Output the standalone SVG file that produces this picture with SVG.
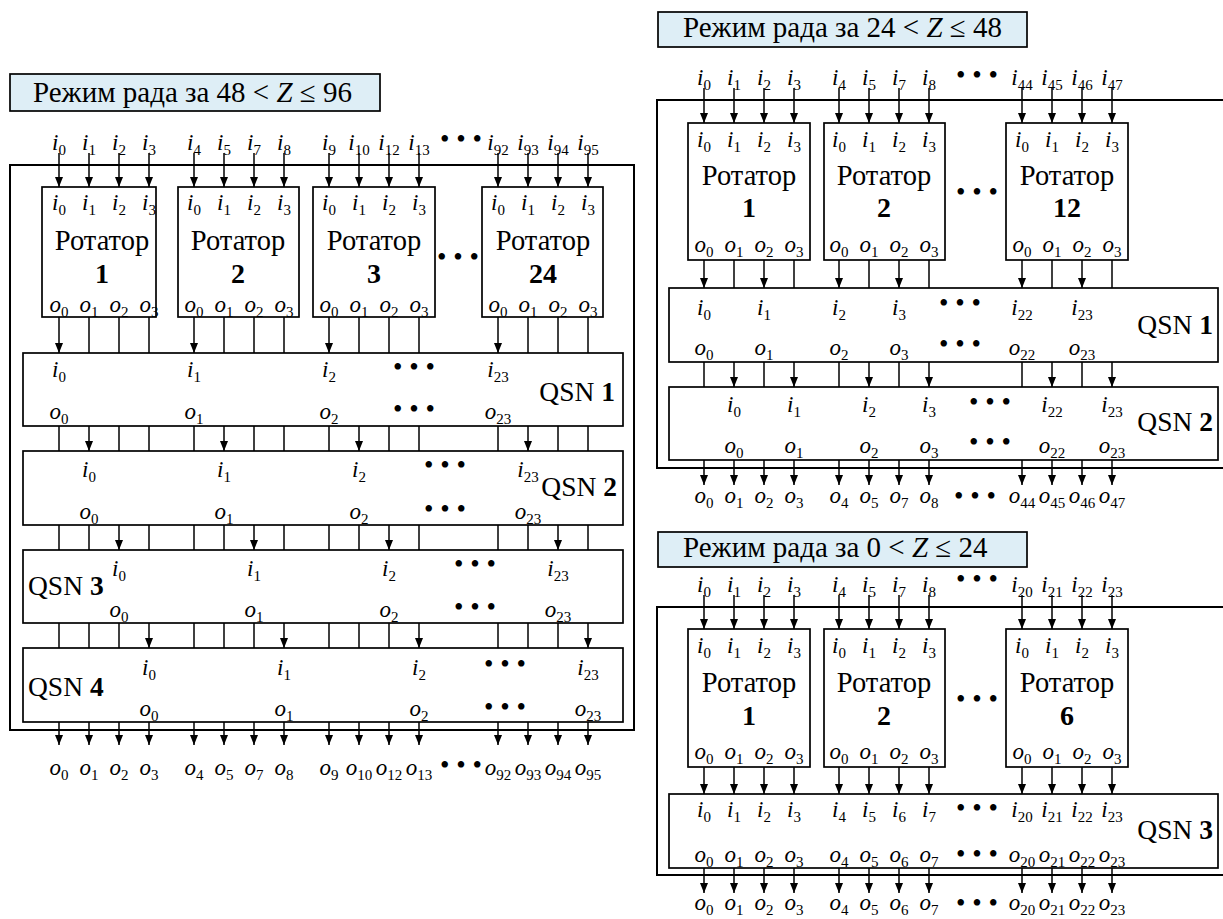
<svg xmlns="http://www.w3.org/2000/svg" width="1223" height="919" viewBox="0 0 1223 919" font-family="'Liberation Serif', 'DejaVu Serif', serif">
<style>
.bx{fill:#fff;stroke:#000;stroke-width:1.7}
.fr{fill:none;stroke:#000;stroke-width:2}
.tb{fill:#deeef6;stroke:#000;stroke-width:1.7}
#connectors line{stroke:#000;stroke-width:1.5}
.a line{marker-end:url(#ah)}
text{font-family:'Liberation Serif','DejaVu Serif',serif;fill:#000}
.lb text,text.lb{font-size:23px;font-style:italic;text-anchor:middle}
.lb tspan,text.lb tspan{font-size:15px;font-style:normal}
.rt{font-size:28.5px;text-anchor:middle}
.nm{font-size:28px;font-weight:bold;text-anchor:middle}
.q{font-size:27.5px}
.dt{font-size:27px;text-anchor:middle}
.tt{font-size:29px}
</style>
<defs>
<marker id="ah" viewBox="0 0 10 8" refX="10" refY="4" markerWidth="10" markerHeight="8.5" markerUnits="userSpaceOnUse" orient="auto"><path d="M0,0 L10,4 L0,8 z" fill="#000"/></marker>
</defs>

<g id="frame-48-96">
<rect class="fr" x="10" y="165" width="624" height="565"/>
<rect class="tb" x="10" y="74" width="370" height="37"/>
<text class="tt" x="33" y="102">Режим рада за 48 &lt; <tspan font-style="italic">Z</tspan> ≤ 96</text>
</g>

<g id="frame-24-48">
<rect class="fr" x="657" y="100" width="570" height="368"/>
<rect class="tb" x="658" y="12" width="369" height="35"/>
<text class="tt" x="683" y="37">Режим рада за 24 &lt; <tspan font-style="italic">Z</tspan> ≤ 48</text>
</g>

<g id="frame-0-24">
<rect class="fr" x="657" y="607" width="570" height="268"/>
<rect class="tb" x="658" y="532" width="369" height="35"/>
<text class="tt" x="683" y="557">Режим рада за 0 &lt; <tspan font-style="italic">Z</tspan> ≤ 24</text>
</g>

<g id="connectors">
<g class="a">
<line x1="59" y1="153" x2="59" y2="187"/><line x1="89" y1="153" x2="89" y2="187"/><line x1="119" y1="153" x2="119" y2="187"/><line x1="149" y1="153" x2="149" y2="187"/>
<line x1="194" y1="153" x2="194" y2="187"/><line x1="224" y1="153" x2="224" y2="187"/><line x1="254" y1="153" x2="254" y2="187"/><line x1="284" y1="153" x2="284" y2="187"/>
<line x1="329" y1="153" x2="329" y2="187"/><line x1="359" y1="153" x2="359" y2="187"/><line x1="389" y1="153" x2="389" y2="187"/><line x1="419" y1="153" x2="419" y2="187"/>
<line x1="498" y1="153" x2="498" y2="187"/><line x1="528" y1="153" x2="528" y2="187"/><line x1="558" y1="153" x2="558" y2="187"/><line x1="588" y1="153" x2="588" y2="187"/>
<line x1="59" y1="317" x2="59" y2="353"/><line x1="194" y1="317" x2="194" y2="353"/><line x1="329" y1="317" x2="329" y2="353"/><line x1="498" y1="317" x2="498" y2="353"/>
<line x1="89" y1="426" x2="89" y2="451"/><line x1="224" y1="426" x2="224" y2="451"/><line x1="359" y1="426" x2="359" y2="451"/><line x1="528" y1="426" x2="528" y2="451"/>
<line x1="119" y1="525" x2="119" y2="550"/><line x1="254" y1="525" x2="254" y2="550"/><line x1="389" y1="525" x2="389" y2="550"/><line x1="558" y1="525" x2="558" y2="550"/>
<line x1="149" y1="623" x2="149" y2="648"/><line x1="284" y1="623" x2="284" y2="648"/><line x1="419" y1="623" x2="419" y2="648"/><line x1="588" y1="623" x2="588" y2="648"/>
<line x1="59" y1="722" x2="59" y2="745"/><line x1="89" y1="722" x2="89" y2="745"/><line x1="119" y1="722" x2="119" y2="745"/><line x1="149" y1="722" x2="149" y2="745"/>
<line x1="194" y1="722" x2="194" y2="745"/><line x1="224" y1="722" x2="224" y2="745"/><line x1="254" y1="722" x2="254" y2="745"/><line x1="284" y1="722" x2="284" y2="745"/>
<line x1="329" y1="722" x2="329" y2="745"/><line x1="359" y1="722" x2="359" y2="745"/><line x1="389" y1="722" x2="389" y2="745"/><line x1="419" y1="722" x2="419" y2="745"/>
<line x1="498" y1="722" x2="498" y2="745"/><line x1="528" y1="722" x2="528" y2="745"/><line x1="558" y1="722" x2="558" y2="745"/><line x1="588" y1="722" x2="588" y2="745"/>
</g>
<g>
<line x1="89" y1="317" x2="89" y2="353"/><line x1="119" y1="317" x2="119" y2="353"/><line x1="149" y1="317" x2="149" y2="353"/>
<line x1="224" y1="317" x2="224" y2="353"/><line x1="254" y1="317" x2="254" y2="353"/><line x1="284" y1="317" x2="284" y2="353"/>
<line x1="359" y1="317" x2="359" y2="353"/><line x1="389" y1="317" x2="389" y2="353"/><line x1="419" y1="317" x2="419" y2="353"/>
<line x1="528" y1="317" x2="528" y2="353"/><line x1="558" y1="317" x2="558" y2="353"/><line x1="588" y1="317" x2="588" y2="353"/>
<line x1="59" y1="426" x2="59" y2="451"/><line x1="119" y1="426" x2="119" y2="451"/><line x1="149" y1="426" x2="149" y2="451"/>
<line x1="194" y1="426" x2="194" y2="451"/><line x1="254" y1="426" x2="254" y2="451"/><line x1="284" y1="426" x2="284" y2="451"/>
<line x1="329" y1="426" x2="329" y2="451"/><line x1="389" y1="426" x2="389" y2="451"/><line x1="419" y1="426" x2="419" y2="451"/>
<line x1="498" y1="426" x2="498" y2="451"/><line x1="558" y1="426" x2="558" y2="451"/><line x1="588" y1="426" x2="588" y2="451"/>
<line x1="59" y1="525" x2="59" y2="550"/><line x1="89" y1="525" x2="89" y2="550"/><line x1="149" y1="525" x2="149" y2="550"/>
<line x1="194" y1="525" x2="194" y2="550"/><line x1="224" y1="525" x2="224" y2="550"/><line x1="284" y1="525" x2="284" y2="550"/>
<line x1="329" y1="525" x2="329" y2="550"/><line x1="359" y1="525" x2="359" y2="550"/><line x1="419" y1="525" x2="419" y2="550"/>
<line x1="498" y1="525" x2="498" y2="550"/><line x1="528" y1="525" x2="528" y2="550"/><line x1="588" y1="525" x2="588" y2="550"/>
<line x1="59" y1="623" x2="59" y2="648"/><line x1="89" y1="623" x2="89" y2="648"/><line x1="119" y1="623" x2="119" y2="648"/>
<line x1="194" y1="623" x2="194" y2="648"/><line x1="224" y1="623" x2="224" y2="648"/><line x1="254" y1="623" x2="254" y2="648"/>
<line x1="329" y1="623" x2="329" y2="648"/><line x1="359" y1="623" x2="359" y2="648"/><line x1="389" y1="623" x2="389" y2="648"/>
<line x1="498" y1="623" x2="498" y2="648"/><line x1="528" y1="623" x2="528" y2="648"/><line x1="558" y1="623" x2="558" y2="648"/>
</g>

<g class="a">
<line x1="704" y1="88" x2="704" y2="123"/><line x1="734" y1="88" x2="734" y2="123"/><line x1="764" y1="88" x2="764" y2="123"/><line x1="794" y1="88" x2="794" y2="123"/>
<line x1="839" y1="88" x2="839" y2="123"/><line x1="869" y1="88" x2="869" y2="123"/><line x1="899" y1="88" x2="899" y2="123"/><line x1="929" y1="88" x2="929" y2="123"/>
<line x1="1022" y1="88" x2="1022" y2="123"/><line x1="1052" y1="88" x2="1052" y2="123"/><line x1="1082" y1="88" x2="1082" y2="123"/><line x1="1112" y1="88" x2="1112" y2="123"/>
<line x1="704" y1="260" x2="704" y2="288"/><line x1="764" y1="260" x2="764" y2="288"/><line x1="839" y1="260" x2="839" y2="288"/><line x1="899" y1="260" x2="899" y2="288"/><line x1="1022" y1="260" x2="1022" y2="288"/><line x1="1082" y1="260" x2="1082" y2="288"/>
<line x1="734" y1="362" x2="734" y2="387"/><line x1="794" y1="362" x2="794" y2="387"/><line x1="869" y1="362" x2="869" y2="387"/><line x1="929" y1="362" x2="929" y2="387"/><line x1="1052" y1="362" x2="1052" y2="387"/><line x1="1112" y1="362" x2="1112" y2="387"/>
<line x1="704" y1="460" x2="704" y2="485"/><line x1="734" y1="460" x2="734" y2="485"/><line x1="764" y1="460" x2="764" y2="485"/><line x1="794" y1="460" x2="794" y2="485"/>
<line x1="839" y1="460" x2="839" y2="485"/><line x1="869" y1="460" x2="869" y2="485"/><line x1="899" y1="460" x2="899" y2="485"/><line x1="929" y1="460" x2="929" y2="485"/>
<line x1="1022" y1="460" x2="1022" y2="485"/><line x1="1052" y1="460" x2="1052" y2="485"/><line x1="1082" y1="460" x2="1082" y2="485"/><line x1="1112" y1="460" x2="1112" y2="485"/>
</g>
<g>
<line x1="734" y1="260" x2="734" y2="288"/><line x1="794" y1="260" x2="794" y2="288"/><line x1="869" y1="260" x2="869" y2="288"/><line x1="929" y1="260" x2="929" y2="288"/><line x1="1052" y1="260" x2="1052" y2="288"/><line x1="1112" y1="260" x2="1112" y2="288"/>
<line x1="704" y1="362" x2="704" y2="387"/><line x1="764" y1="362" x2="764" y2="387"/><line x1="839" y1="362" x2="839" y2="387"/><line x1="899" y1="362" x2="899" y2="387"/><line x1="1022" y1="362" x2="1022" y2="387"/><line x1="1082" y1="362" x2="1082" y2="387"/>
</g>

<g class="a">
<line x1="704" y1="595" x2="704" y2="629"/><line x1="734" y1="595" x2="734" y2="629"/><line x1="764" y1="595" x2="764" y2="629"/><line x1="794" y1="595" x2="794" y2="629"/>
<line x1="839" y1="595" x2="839" y2="629"/><line x1="869" y1="595" x2="869" y2="629"/><line x1="899" y1="595" x2="899" y2="629"/><line x1="929" y1="595" x2="929" y2="629"/>
<line x1="1022" y1="595" x2="1022" y2="629"/><line x1="1052" y1="595" x2="1052" y2="629"/><line x1="1082" y1="595" x2="1082" y2="629"/><line x1="1112" y1="595" x2="1112" y2="629"/>
<line x1="704" y1="767" x2="704" y2="794"/><line x1="734" y1="767" x2="734" y2="794"/><line x1="764" y1="767" x2="764" y2="794"/><line x1="794" y1="767" x2="794" y2="794"/>
<line x1="839" y1="767" x2="839" y2="794"/><line x1="869" y1="767" x2="869" y2="794"/><line x1="899" y1="767" x2="899" y2="794"/><line x1="929" y1="767" x2="929" y2="794"/>
<line x1="1022" y1="767" x2="1022" y2="794"/><line x1="1052" y1="767" x2="1052" y2="794"/><line x1="1082" y1="767" x2="1082" y2="794"/><line x1="1112" y1="767" x2="1112" y2="794"/>
<line x1="704" y1="868" x2="704" y2="893"/><line x1="734" y1="868" x2="734" y2="893"/><line x1="764" y1="868" x2="764" y2="893"/><line x1="794" y1="868" x2="794" y2="893"/>
<line x1="839" y1="868" x2="839" y2="893"/><line x1="869" y1="868" x2="869" y2="893"/><line x1="899" y1="868" x2="899" y2="893"/><line x1="929" y1="868" x2="929" y2="893"/>
<line x1="1022" y1="868" x2="1022" y2="893"/><line x1="1052" y1="868" x2="1052" y2="893"/><line x1="1082" y1="868" x2="1082" y2="893"/><line x1="1112" y1="868" x2="1112" y2="893"/>
</g>
</g>

<g id="L-inputs" class="lb">
<text x="59" y="150">i<tspan dy="5">0</tspan></text><text x="89" y="150">i<tspan dy="5">1</tspan></text><text x="119" y="150">i<tspan dy="5">2</tspan></text><text x="149" y="150">i<tspan dy="5">3</tspan></text>
<text x="194" y="150">i<tspan dy="5">4</tspan></text><text x="224" y="150">i<tspan dy="5">5</tspan></text><text x="254" y="150">i<tspan dy="5">7</tspan></text><text x="284" y="150">i<tspan dy="5">8</tspan></text>
<text x="329" y="150">i<tspan dy="5">9</tspan></text><text x="359" y="150">i<tspan dy="5">10</tspan></text><text x="389" y="150">i<tspan dy="5">12</tspan></text><text x="419" y="150">i<tspan dy="5">13</tspan></text>
<text x="498" y="150">i<tspan dy="5">92</tspan></text><text x="528" y="150">i<tspan dy="5">93</tspan></text><text x="558" y="150">i<tspan dy="5">94</tspan></text><text x="588" y="150">i<tspan dy="5">95</tspan></text>
</g>
<text class="dt" x="461" y="148">• • •</text>

<g id="L-rot1">
<rect class="bx" x="42" y="187" width="114" height="130"/>
<g class="lb"><text x="59" y="210">i<tspan dy="5">0</tspan></text><text x="89" y="210">i<tspan dy="5">1</tspan></text><text x="119" y="210">i<tspan dy="5">2</tspan></text><text x="149" y="210">i<tspan dy="5">3</tspan></text>
<text x="59" y="312">o<tspan dy="5">0</tspan></text><text x="89" y="312">o<tspan dy="5">1</tspan></text><text x="119" y="312">o<tspan dy="5">2</tspan></text><text x="149" y="312">o<tspan dy="5">3</tspan></text></g>
<text class="rt" x="102" y="250">Ротатор</text><text class="nm" x="102" y="283">1</text>
</g>
<g id="L-rot2">
<rect class="bx" x="178" y="187" width="121" height="130"/>
<g class="lb"><text x="194" y="210">i<tspan dy="5">0</tspan></text><text x="224" y="210">i<tspan dy="5">1</tspan></text><text x="254" y="210">i<tspan dy="5">2</tspan></text><text x="284" y="210">i<tspan dy="5">3</tspan></text>
<text x="194" y="312">o<tspan dy="5">0</tspan></text><text x="224" y="312">o<tspan dy="5">1</tspan></text><text x="254" y="312">o<tspan dy="5">2</tspan></text><text x="284" y="312">o<tspan dy="5">3</tspan></text></g>
<text class="rt" x="238" y="250">Ротатор</text><text class="nm" x="238" y="283">2</text>
</g>
<g id="L-rot3">
<rect class="bx" x="313" y="187" width="122" height="130"/>
<g class="lb"><text x="329" y="210">i<tspan dy="5">0</tspan></text><text x="359" y="210">i<tspan dy="5">1</tspan></text><text x="389" y="210">i<tspan dy="5">2</tspan></text><text x="419" y="210">i<tspan dy="5">3</tspan></text>
<text x="329" y="312">o<tspan dy="5">0</tspan></text><text x="359" y="312">o<tspan dy="5">1</tspan></text><text x="389" y="312">o<tspan dy="5">2</tspan></text><text x="419" y="312">o<tspan dy="5">3</tspan></text></g>
<text class="rt" x="374" y="250">Ротатор</text><text class="nm" x="374" y="283">3</text>
</g>
<text class="dt" x="458" y="266">• • •</text>
<g id="L-rot24">
<rect class="bx" x="482" y="187" width="121" height="130"/>
<g class="lb"><text x="498" y="210">i<tspan dy="5">0</tspan></text><text x="528" y="210">i<tspan dy="5">1</tspan></text><text x="558" y="210">i<tspan dy="5">2</tspan></text><text x="588" y="210">i<tspan dy="5">3</tspan></text>
<text x="498" y="312">o<tspan dy="5">0</tspan></text><text x="528" y="312">o<tspan dy="5">1</tspan></text><text x="558" y="312">o<tspan dy="5">2</tspan></text><text x="588" y="312">o<tspan dy="5">3</tspan></text></g>
<text class="rt" x="543" y="250">Ротатор</text><text class="nm" x="543" y="283">24</text>
</g>

<g id="L-qsn1">
<rect class="bx" x="23" y="353" width="600" height="73"/>
<g class="lb"><text x="59" y="377">i<tspan dy="5">0</tspan></text><text x="194" y="377">i<tspan dy="5">1</tspan></text><text x="329" y="377">i<tspan dy="5">2</tspan></text><text x="498" y="377">i<tspan dy="5">23</tspan></text>
<text x="59" y="419">o<tspan dy="5">0</tspan></text><text x="194" y="419">o<tspan dy="5">1</tspan></text><text x="329" y="419">o<tspan dy="5">2</tspan></text><text x="498" y="419">o<tspan dy="5">23</tspan></text></g>
<text class="dt" x="414" y="376">• • •</text><text class="dt" x="414" y="418">• • •</text>
<text class="q" x="615" y="401" text-anchor="end">QSN <tspan font-weight="bold">1</tspan></text>
</g>
<g id="L-qsn2">
<rect class="bx" x="23" y="451" width="600" height="74"/>
<g class="lb"><text x="89" y="477">i<tspan dy="5">0</tspan></text><text x="224" y="477">i<tspan dy="5">1</tspan></text><text x="359" y="477">i<tspan dy="5">2</tspan></text><text x="528" y="477">i<tspan dy="5">23</tspan></text>
<text x="89" y="519">o<tspan dy="5">0</tspan></text><text x="224" y="519">o<tspan dy="5">1</tspan></text><text x="359" y="519">o<tspan dy="5">2</tspan></text><text x="528" y="519">o<tspan dy="5">23</tspan></text></g>
<text class="dt" x="445" y="474">• • •</text><text class="dt" x="445" y="518">• • •</text>
<text class="q" x="617" y="496" text-anchor="end">QSN <tspan font-weight="bold">2</tspan></text>
</g>
<g id="L-qsn3">
<rect class="bx" x="23" y="550" width="600" height="73"/>
<g class="lb"><text x="119" y="576">i<tspan dy="5">0</tspan></text><text x="254" y="576">i<tspan dy="5">1</tspan></text><text x="389" y="576">i<tspan dy="5">2</tspan></text><text x="558" y="576">i<tspan dy="5">23</tspan></text>
<text x="119" y="617">o<tspan dy="5">0</tspan></text><text x="254" y="617">o<tspan dy="5">1</tspan></text><text x="389" y="617">o<tspan dy="5">2</tspan></text><text x="558" y="617">o<tspan dy="5">23</tspan></text></g>
<text class="dt" x="475" y="573">• • •</text><text class="dt" x="475" y="616">• • •</text>
<text class="q" x="28" y="595">QSN <tspan font-weight="bold">3</tspan></text>
</g>
<g id="L-qsn4">
<rect class="bx" x="23" y="648" width="600" height="74"/>
<g class="lb"><text x="149" y="675">i<tspan dy="5">0</tspan></text><text x="284" y="675">i<tspan dy="5">1</tspan></text><text x="419" y="675">i<tspan dy="5">2</tspan></text><text x="588" y="675">i<tspan dy="5">23</tspan></text>
<text x="149" y="716">o<tspan dy="5">0</tspan></text><text x="284" y="716">o<tspan dy="5">1</tspan></text><text x="419" y="716">o<tspan dy="5">2</tspan></text><text x="588" y="716">o<tspan dy="5">23</tspan></text></g>
<text class="dt" x="505" y="673">• • •</text><text class="dt" x="505" y="716">• • •</text>
<text class="q" x="28" y="696">QSN <tspan font-weight="bold">4</tspan></text>
</g>

<g id="L-outputs" class="lb">
<text x="59" y="775">o<tspan dy="5">0</tspan></text><text x="89" y="775">o<tspan dy="5">1</tspan></text><text x="119" y="775">o<tspan dy="5">2</tspan></text><text x="149" y="775">o<tspan dy="5">3</tspan></text>
<text x="194" y="775">o<tspan dy="5">4</tspan></text><text x="224" y="775">o<tspan dy="5">5</tspan></text><text x="254" y="775">o<tspan dy="5">7</tspan></text><text x="284" y="775">o<tspan dy="5">8</tspan></text>
<text x="329" y="775">o<tspan dy="5">9</tspan></text><text x="359" y="775">o<tspan dy="5">10</tspan></text><text x="389" y="775">o<tspan dy="5">12</tspan></text><text x="419" y="775">o<tspan dy="5">13</tspan></text>
<text x="498" y="775">o<tspan dy="5">92</tspan></text><text x="528" y="775">o<tspan dy="5">93</tspan></text><text x="558" y="775">o<tspan dy="5">94</tspan></text><text x="588" y="775">o<tspan dy="5">95</tspan></text>
</g>
<text class="dt" x="461" y="774">• • •</text>

<g id="RT-inputs" class="lb">
<text x="704" y="85">i<tspan dy="5">0</tspan></text><text x="734" y="85">i<tspan dy="5">1</tspan></text><text x="764" y="85">i<tspan dy="5">2</tspan></text><text x="794" y="85">i<tspan dy="5">3</tspan></text>
<text x="839" y="85">i<tspan dy="5">4</tspan></text><text x="869" y="85">i<tspan dy="5">5</tspan></text><text x="899" y="85">i<tspan dy="5">7</tspan></text><text x="929" y="85">i<tspan dy="5">8</tspan></text>
<text x="1022" y="85">i<tspan dy="5">44</tspan></text><text x="1052" y="85">i<tspan dy="5">45</tspan></text><text x="1082" y="85">i<tspan dy="5">46</tspan></text><text x="1112" y="85">i<tspan dy="5">47</tspan></text>
</g>
<text class="dt" x="977" y="84">• • •</text>

<g id="RT-rot1">
<rect class="bx" x="688" y="123" width="122" height="137"/>
<g class="lb"><text x="704" y="147">i<tspan dy="5">0</tspan></text><text x="734" y="147">i<tspan dy="5">1</tspan></text><text x="764" y="147">i<tspan dy="5">2</tspan></text><text x="794" y="147">i<tspan dy="5">3</tspan></text>
<text x="704" y="252">o<tspan dy="5">0</tspan></text><text x="734" y="252">o<tspan dy="5">1</tspan></text><text x="764" y="252">o<tspan dy="5">2</tspan></text><text x="794" y="252">o<tspan dy="5">3</tspan></text></g>
<text class="rt" x="749" y="185">Ротатор</text><text class="nm" x="749" y="217">1</text>
</g>
<g id="RT-rot2">
<rect class="bx" x="824" y="123" width="121" height="137"/>
<g class="lb"><text x="839" y="147">i<tspan dy="5">0</tspan></text><text x="869" y="147">i<tspan dy="5">1</tspan></text><text x="899" y="147">i<tspan dy="5">2</tspan></text><text x="929" y="147">i<tspan dy="5">3</tspan></text>
<text x="839" y="252">o<tspan dy="5">0</tspan></text><text x="869" y="252">o<tspan dy="5">1</tspan></text><text x="899" y="252">o<tspan dy="5">2</tspan></text><text x="929" y="252">o<tspan dy="5">3</tspan></text></g>
<text class="rt" x="884" y="185">Ротатор</text><text class="nm" x="884" y="217">2</text>
</g>
<text class="dt" x="977" y="201">• • •</text>
<g id="RT-rot12">
<rect class="bx" x="1006" y="123" width="122" height="137"/>
<g class="lb"><text x="1022" y="147">i<tspan dy="5">0</tspan></text><text x="1052" y="147">i<tspan dy="5">1</tspan></text><text x="1082" y="147">i<tspan dy="5">2</tspan></text><text x="1112" y="147">i<tspan dy="5">3</tspan></text>
<text x="1022" y="252">o<tspan dy="5">0</tspan></text><text x="1052" y="252">o<tspan dy="5">1</tspan></text><text x="1082" y="252">o<tspan dy="5">2</tspan></text><text x="1112" y="252">o<tspan dy="5">3</tspan></text></g>
<text class="rt" x="1067" y="185">Ротатор</text><text class="nm" x="1067" y="217">12</text>
</g>

<g id="RT-qsn1">
<rect class="bx" x="669" y="288" width="549" height="74"/>
<g class="lb"><text x="704" y="315">i<tspan dy="5">0</tspan></text><text x="764" y="315">i<tspan dy="5">1</tspan></text><text x="839" y="315">i<tspan dy="5">2</tspan></text><text x="899" y="315">i<tspan dy="5">3</tspan></text><text x="1022" y="315">i<tspan dy="5">22</tspan></text><text x="1082" y="315">i<tspan dy="5">23</tspan></text>
<text x="704" y="355">o<tspan dy="5">0</tspan></text><text x="764" y="355">o<tspan dy="5">1</tspan></text><text x="839" y="355">o<tspan dy="5">2</tspan></text><text x="899" y="355">o<tspan dy="5">3</tspan></text><text x="1022" y="355">o<tspan dy="5">22</tspan></text><text x="1082" y="355">o<tspan dy="5">23</tspan></text></g>
<text class="dt" x="960" y="312">• • •</text><text class="dt" x="960" y="353">• • •</text>
<text class="q" x="1213" y="334" text-anchor="end">QSN <tspan font-weight="bold">1</tspan></text>
</g>
<g id="RT-qsn2">
<rect class="bx" x="669" y="387" width="549" height="73"/>
<g class="lb"><text x="734" y="412">i<tspan dy="5">0</tspan></text><text x="794" y="412">i<tspan dy="5">1</tspan></text><text x="869" y="412">i<tspan dy="5">2</tspan></text><text x="929" y="412">i<tspan dy="5">3</tspan></text><text x="1052" y="412">i<tspan dy="5">22</tspan></text><text x="1112" y="412">i<tspan dy="5">23</tspan></text>
<text x="734" y="453">o<tspan dy="5">0</tspan></text><text x="794" y="453">o<tspan dy="5">1</tspan></text><text x="869" y="453">o<tspan dy="5">2</tspan></text><text x="929" y="453">o<tspan dy="5">3</tspan></text><text x="1052" y="453">o<tspan dy="5">22</tspan></text><text x="1112" y="453">o<tspan dy="5">23</tspan></text></g>
<text class="dt" x="990" y="411">• • •</text><text class="dt" x="990" y="451">• • •</text>
<text class="q" x="1213" y="431" text-anchor="end">QSN <tspan font-weight="bold">2</tspan></text>
</g>

<g id="RT-outputs" class="lb">
<text x="704" y="503">o<tspan dy="5">0</tspan></text><text x="734" y="503">o<tspan dy="5">1</tspan></text><text x="764" y="503">o<tspan dy="5">2</tspan></text><text x="794" y="503">o<tspan dy="5">3</tspan></text>
<text x="839" y="503">o<tspan dy="5">4</tspan></text><text x="869" y="503">o<tspan dy="5">5</tspan></text><text x="899" y="503">o<tspan dy="5">7</tspan></text><text x="929" y="503">o<tspan dy="5">8</tspan></text>
<text x="1022" y="503">o<tspan dy="5">44</tspan></text><text x="1052" y="503">o<tspan dy="5">45</tspan></text><text x="1082" y="503">o<tspan dy="5">46</tspan></text><text x="1112" y="503">o<tspan dy="5">47</tspan></text>
</g>
<text class="dt" x="975" y="505">• • •</text>

<g id="RB-inputs" class="lb">
<text x="704" y="592">i<tspan dy="5">0</tspan></text><text x="734" y="592">i<tspan dy="5">1</tspan></text><text x="764" y="592">i<tspan dy="5">2</tspan></text><text x="794" y="592">i<tspan dy="5">3</tspan></text>
<text x="839" y="592">i<tspan dy="5">4</tspan></text><text x="869" y="592">i<tspan dy="5">5</tspan></text><text x="899" y="592">i<tspan dy="5">7</tspan></text><text x="929" y="592">i<tspan dy="5">8</tspan></text>
<text x="1022" y="592">i<tspan dy="5">20</tspan></text><text x="1052" y="592">i<tspan dy="5">21</tspan></text><text x="1082" y="592">i<tspan dy="5">22</tspan></text><text x="1112" y="592">i<tspan dy="5">23</tspan></text>
</g>
<text class="dt" x="977" y="588">• • •</text>

<g id="RB-rot1">
<rect class="bx" x="688" y="629" width="122" height="138"/>
<g class="lb"><text x="704" y="653">i<tspan dy="5">0</tspan></text><text x="734" y="653">i<tspan dy="5">1</tspan></text><text x="764" y="653">i<tspan dy="5">2</tspan></text><text x="794" y="653">i<tspan dy="5">3</tspan></text>
<text x="704" y="759">o<tspan dy="5">0</tspan></text><text x="734" y="759">o<tspan dy="5">1</tspan></text><text x="764" y="759">o<tspan dy="5">2</tspan></text><text x="794" y="759">o<tspan dy="5">3</tspan></text></g>
<text class="rt" x="749" y="692">Ротатор</text><text class="nm" x="749" y="725">1</text>
</g>
<g id="RB-rot2">
<rect class="bx" x="824" y="629" width="121" height="138"/>
<g class="lb"><text x="839" y="653">i<tspan dy="5">0</tspan></text><text x="869" y="653">i<tspan dy="5">1</tspan></text><text x="899" y="653">i<tspan dy="5">2</tspan></text><text x="929" y="653">i<tspan dy="5">3</tspan></text>
<text x="839" y="759">o<tspan dy="5">0</tspan></text><text x="869" y="759">o<tspan dy="5">1</tspan></text><text x="899" y="759">o<tspan dy="5">2</tspan></text><text x="929" y="759">o<tspan dy="5">3</tspan></text></g>
<text class="rt" x="884" y="692">Ротатор</text><text class="nm" x="884" y="725">2</text>
</g>
<text class="dt" x="977" y="708">• • •</text>
<g id="RB-rot6">
<rect class="bx" x="1006" y="629" width="122" height="138"/>
<g class="lb"><text x="1022" y="653">i<tspan dy="5">0</tspan></text><text x="1052" y="653">i<tspan dy="5">1</tspan></text><text x="1082" y="653">i<tspan dy="5">2</tspan></text><text x="1112" y="653">i<tspan dy="5">3</tspan></text>
<text x="1022" y="759">o<tspan dy="5">0</tspan></text><text x="1052" y="759">o<tspan dy="5">1</tspan></text><text x="1082" y="759">o<tspan dy="5">2</tspan></text><text x="1112" y="759">o<tspan dy="5">3</tspan></text></g>
<text class="rt" x="1067" y="692">Ротатор</text><text class="nm" x="1067" y="725">6</text>
</g>

<g id="RB-qsn3">
<rect class="bx" x="669" y="794" width="549" height="74"/>
<g class="lb"><text x="704" y="817">i<tspan dy="5">0</tspan></text><text x="734" y="817">i<tspan dy="5">1</tspan></text><text x="764" y="817">i<tspan dy="5">2</tspan></text><text x="794" y="817">i<tspan dy="5">3</tspan></text>
<text x="839" y="817">i<tspan dy="5">4</tspan></text><text x="869" y="817">i<tspan dy="5">5</tspan></text><text x="899" y="817">i<tspan dy="5">6</tspan></text><text x="929" y="817">i<tspan dy="5">7</tspan></text>
<text x="1022" y="817">i<tspan dy="5">20</tspan></text><text x="1052" y="817">i<tspan dy="5">21</tspan></text><text x="1082" y="817">i<tspan dy="5">22</tspan></text><text x="1112" y="817">i<tspan dy="5">23</tspan></text>
<text x="704" y="862">o<tspan dy="5">0</tspan></text><text x="734" y="862">o<tspan dy="5">1</tspan></text><text x="764" y="862">o<tspan dy="5">2</tspan></text><text x="794" y="862">o<tspan dy="5">3</tspan></text>
<text x="839" y="862">o<tspan dy="5">4</tspan></text><text x="869" y="862">o<tspan dy="5">5</tspan></text><text x="899" y="862">o<tspan dy="5">6</tspan></text><text x="929" y="862">o<tspan dy="5">7</tspan></text>
<text x="1022" y="862">o<tspan dy="5">20</tspan></text><text x="1052" y="862">o<tspan dy="5">21</tspan></text><text x="1082" y="862">o<tspan dy="5">22</tspan></text><text x="1112" y="862">o<tspan dy="5">23</tspan></text></g>
<text class="dt" x="977" y="817">• • •</text><text class="dt" x="977" y="863">• • •</text>
<text class="q" x="1213" y="839" text-anchor="end">QSN <tspan font-weight="bold">3</tspan></text>
</g>

<g id="RB-outputs" class="lb">
<text x="704" y="910">o<tspan dy="5">0</tspan></text><text x="734" y="910">o<tspan dy="5">1</tspan></text><text x="764" y="910">o<tspan dy="5">2</tspan></text><text x="794" y="910">o<tspan dy="5">3</tspan></text>
<text x="839" y="910">o<tspan dy="5">4</tspan></text><text x="869" y="910">o<tspan dy="5">5</tspan></text><text x="899" y="910">o<tspan dy="5">6</tspan></text><text x="929" y="910">o<tspan dy="5">7</tspan></text>
<text x="1022" y="910">o<tspan dy="5">20</tspan></text><text x="1052" y="910">o<tspan dy="5">21</tspan></text><text x="1082" y="910">o<tspan dy="5">22</tspan></text><text x="1112" y="910">o<tspan dy="5">23</tspan></text>
</g>
<text class="dt" x="977" y="912">• • •</text>
</svg>
